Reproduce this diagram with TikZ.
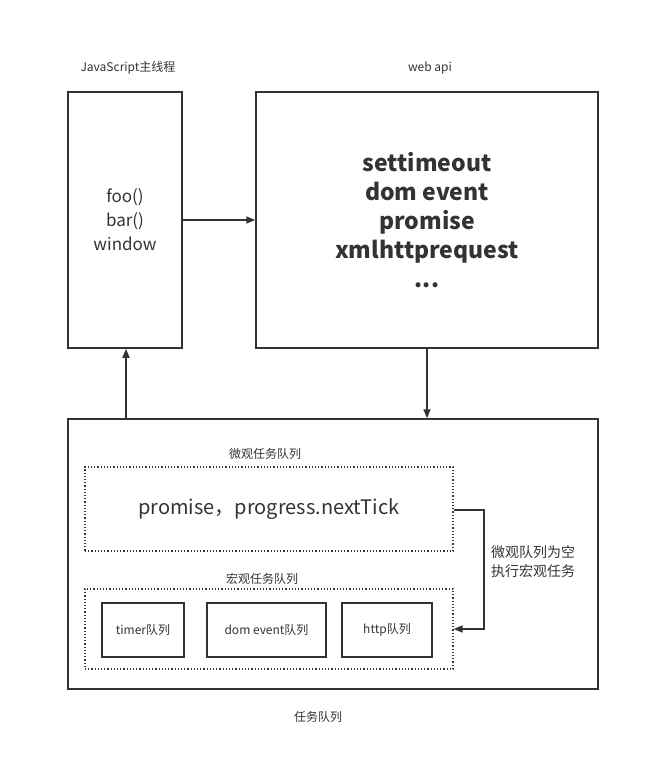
\documentclass[tikz,border=0pt]{standalone}
\usepackage{fontspec}
\setmainfont{Noto Sans CJK SC}
\usetikzlibrary{arrows.meta}
\definecolor{ink}{HTML}{333333}
\begin{document}
\begin{tikzpicture}[x=1pt,y=-1pt,
  box/.style={draw=ink,line width=1.5pt},
  dotbox/.style={draw=ink,line width=1.2pt,dotted},
  conn/.style={draw=ink,line width=1.5pt,-{Triangle[length=9pt,width=7pt]}},
  lbl/.style={text=ink,font=\fontsize{12}{14}\selectfont,inner sep=0pt},
  every node/.style={text=ink}]
\useasboundingbox (0,0) rectangle (648,769);
% main boxes
\node[box,minimum width=114pt,minimum height=256pt,inner sep=0pt,align=center,font=\fontsize{17}{24}\selectfont] (js) at (125,220) {foo()\\bar()\\window};
\node[box,minimum width=342pt,minimum height=256pt,inner sep=0pt,align=center,font=\fontsize{23}{29}\selectfont\bfseries] (api) at (427,220) {settimeout\\dom event\\promise\\xmlhttprequest\\...};
\node[box,minimum width=530pt,minimum height=270pt,inner sep=0pt] (task) at (333,554) {};
\node[lbl] (jsl) at (128,68) {JavaScript主线程};
\node[lbl] (apil) at (430,68) {web api};
\node[lbl] (taskl) at (318,717) {任务队列};
% micro queue
\node[dotbox,minimum width=368pt,minimum height=84pt,inner sep=0pt,font=\fontsize{20}{24}\selectfont] (micro) at (269,509) {promise，progress.nextTick};
\node[lbl] (microl) at (265,454) {微观任务队列};
% macro queue
\node[dotbox,minimum width=368pt,minimum height=80pt,inner sep=0pt] (macro) at (269,629) {};
\node[lbl] (macrol) at (262,579) {宏观任务队列};
\node[box,minimum width=82pt,minimum height=54pt,inner sep=0pt,font=\fontsize{12}{14}\selectfont] (timer) at (143,630) {timer队列};
\node[box,minimum width=119pt,minimum height=54pt,inner sep=0pt,font=\fontsize{12}{14}\selectfont] (dom) at (266.5,630) {dom event队列};
\node[box,minimum width=90pt,minimum height=54pt,inner sep=0pt,font=\fontsize{12}{14}\selectfont] (http) at (387,630) {http队列};
\node[text=ink,inner sep=0pt,align=left,anchor=west,font=\fontsize{14}{19}\selectfont] (note) at (491,562) {微观队列为空\\执行宏观任务};
% connectors
\draw[conn] (js.east) -- (api.west);
\draw[conn] (api.south) -- (task.north -| api.south);
\draw[conn] (task.north -| 126,0) -- (js.south -| 126,0);
\coordinate (c1) at (484,510);
\coordinate (c2) at (484,629);
\draw[conn] (micro.east |- c1) -- (c1) -- (c2) -- (macro.east |- c2);
\end{tikzpicture}
\end{document}
